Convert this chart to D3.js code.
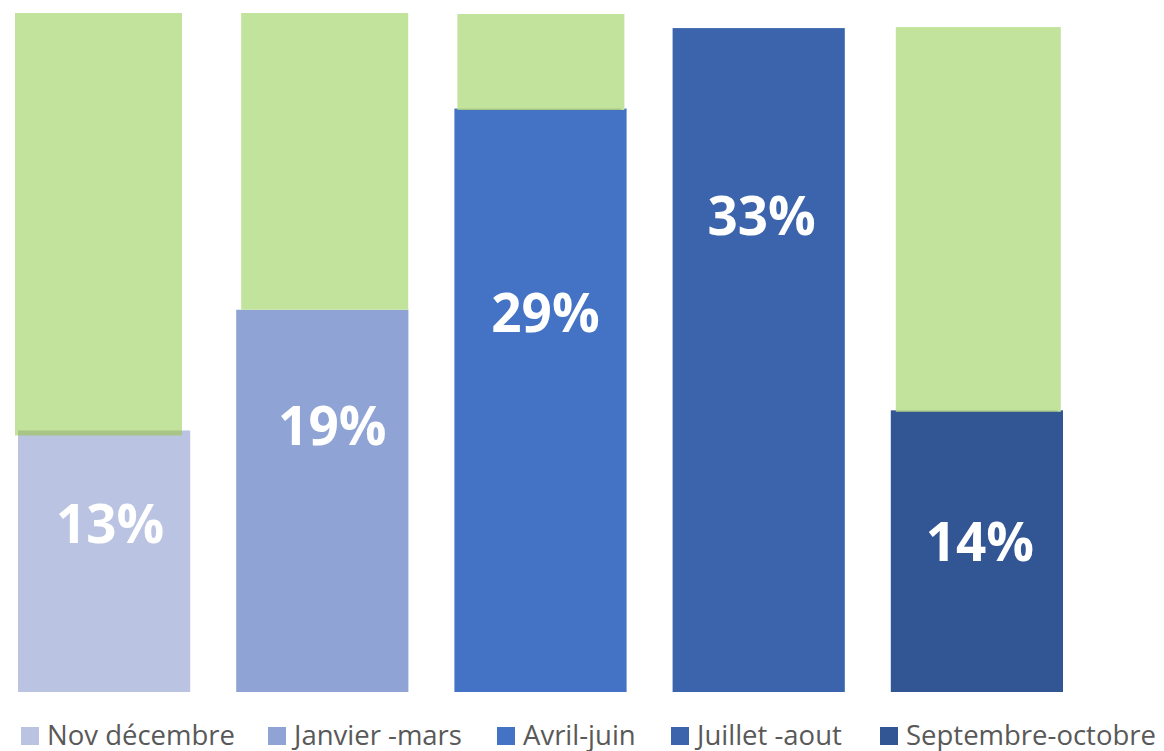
<!DOCTYPE html>
<html>
<head>
<meta charset="utf-8" />
<title>Saisons</title>
<style>
html, body {
    margin: 0px;
    padding: 0px;
    background: #fff;
}
svg {
    display: block;
}
</style>
</head>
<body>
<svg id="chart" width="1164" height="751"></svg>

<script src="https://d3js.org/d3.v7.min.js"></script>
<script>
// data
var categories = ["Nov décembre", "Janvier -mars", "Avril-juin", "Juillet -aout", "Septembre-octobre"]
var values = [13, 19, 29, 33, 14]
var labels = ["13%", "19%", "29%", "33%", "14%"]
var colors = ["#bac4e2", "#8fa4d4", "#4472c4", "#3b64ac", "#325593"]
// green background blocks (top / bottom, in % units)
var greenTop = [33.75, 33.75, 33.7, 33.05, 33.05]
var greenBottom = [12.75, 19, 28.93, 33.05, 13.93]
// where the value label baseline sits (in % units)
var labelAt = [7.4, 12.3, 17.9, 22.7, 6.5]

var greenShift = [-3, 5, 3, 0, 5]
var labelShift = [6, 10, 5, 3, 3]

var svg = d3.select("#chart")

var x = d3.scaleBand()
    .domain(categories)
    .range([18, 1063])
    .paddingInner(0.2108)
    .paddingOuter(0)

var y = d3.scaleLinear()
    .domain([0, 33.75])
    .range([692, 13])

var idx = d3.range(categories.length)

// blue bars
svg.append("g").selectAll("rect")
    .data(idx)
    .join("rect")
    .attr("x", function(i){ return x(categories[i]) })
    .attr("width", x.bandwidth())
    .attr("y", function(i){ return y(values[i]) })
    .attr("height", function(i){ return y(0) - y(values[i]) })
    .attr("fill", function(i){ return colors[i] })

// green blocks on top
var gw = 167
svg.append("g").selectAll("rect")
    .data(idx.filter(function(i){ return greenTop[i] > greenBottom[i] }))
    .join("rect")
    .attr("x", function(i){ return x(categories[i]) + greenShift[i] })
    .attr("width", function(i){ return i == 4 ? gw - 2 : gw })
    .attr("y", function(i){ return y(greenTop[i]) })
    .attr("height", function(i){ return y(greenBottom[i]) - y(greenTop[i]) })
    .attr("fill", "#c2e39b")

// darker strip where the green overlaps the bar
svg.append("g").selectAll("rect")
    .data(idx.filter(function(i){ return greenBottom[i] < values[i] && greenTop[i] > greenBottom[i] }))
    .join("rect")
    .attr("x", function(i){ return Math.max(x(categories[i]), x(categories[i]) + greenShift[i]) })
    .attr("width", function(i){ return gw - Math.abs(greenShift[i]) })
    .attr("y", function(i){ return y(values[i]) })
    .attr("height", function(i){ return y(greenBottom[i]) - y(values[i]) })
    .attr("fill", "#000")
    .attr("opacity", 0.13)

// value labels
svg.append("g").selectAll("text")
    .data(idx)
    .join("text")
    .attr("x", function(i){ return x(categories[i]) + x.bandwidth() / 2 + labelShift[i] })
    .attr("y", function(i){ return y(labelAt[i]) })
    .attr("text-anchor", "middle")
    .attr("fill", "#fff")
    .style("font-family", "'Open Sans', sans-serif")
    .style("font-weight", "bold")
    .style("font-size", "53px")
    .text(function(i){ return labels[i] })

// legend
var legendX = [21, 268, 497, 671, 880]
var leg = svg.append("g").selectAll("g")
    .data(idx)
    .join("g")
    .attr("transform", function(i){ return "translate(" + legendX[i] + ",727)" })

leg.append("rect")
    .attr("width", 18)
    .attr("height", 18)
    .attr("fill", function(i){ return colors[i] })

leg.append("text")
    .attr("x", 26)
    .attr("y", 18)
    .attr("fill", "#595959")
    .style("font-family", "'Open Sans', sans-serif")
    .style("font-size", "27.5px")
    .text(function(i){ return categories[i] })
</script>
</body>
</html>
